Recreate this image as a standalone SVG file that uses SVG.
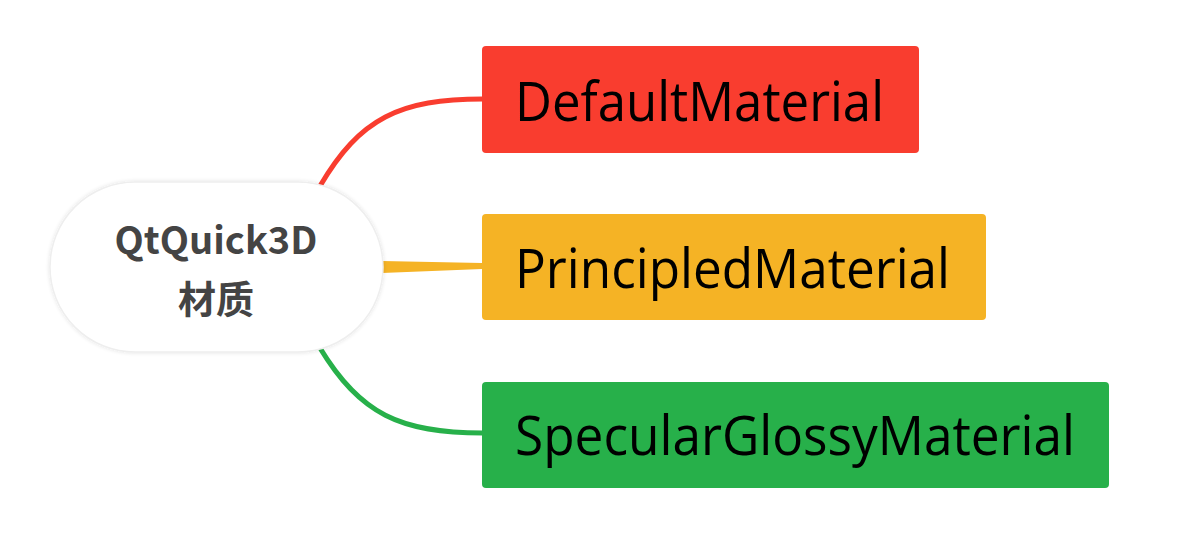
<svg xmlns="http://www.w3.org/2000/svg" width="1194" height="535" viewBox="0 0 1194 535">
<defs>
<filter id="sh" x="-10%" y="-20%" width="120%" height="140%">
<feGaussianBlur in="SourceAlpha" stdDeviation="2"/>
<feComponentTransfer><feFuncA type="linear" slope="0.12"/></feComponentTransfer>
<feMerge><feMergeNode/><feMergeNode in="SourceGraphic"/></feMerge>
</filter>
</defs>
<style>
.lbl{font-family:"Open Sans","Noto Sans",sans-serif;font-size:54px;fill:#000}
.ctr{font-family:"Noto Sans CJK SC","Noto Sans",sans-serif;font-weight:bold;font-size:38px;fill:#444;text-anchor:middle}
</style>
<rect width="1194" height="535" fill="#fff"/>
<g id="connectors" fill="none">
<path d="M320,186 C360,118 400,99 483,99" stroke="#f93d2f" stroke-width="5"/>
<polygon points="382,261 482,263 482,269 382,273" fill="#f5b325" stroke="none"/>
<path d="M320,348 C360,414 400,433 483,433" stroke="#27b04a" stroke-width="5"/>
</g>
<g id="center">
<rect x="50" y="182" width="333" height="170" rx="85" fill="#fff" stroke="#eee" stroke-width="1.5" filter="url(#sh)"/>
<text class="ctr" x="216" y="254">QtQuick3D</text>
<text class="ctr" x="216" y="313">材质</text>
</g>
<g id="default">
<rect x="482" y="46" width="437" height="107" rx="4" fill="#f93d2f"/>
<text class="lbl" x="515" y="121" textLength="369" lengthAdjust="spacingAndGlyphs">DefaultMaterial</text>
</g>
<g id="principled">
<rect x="482" y="214" width="504" height="106" rx="4" fill="#f5b325"/>
<text class="lbl" x="515" y="288" textLength="435" lengthAdjust="spacingAndGlyphs">PrincipledMaterial</text>
</g>
<g id="specular">
<rect x="482" y="382" width="627" height="106" rx="4" fill="#27b04a"/>
<text class="lbl" x="515" y="455" textLength="560" lengthAdjust="spacingAndGlyphs">SpecularGlossyMaterial</text>
</g>
</svg>
